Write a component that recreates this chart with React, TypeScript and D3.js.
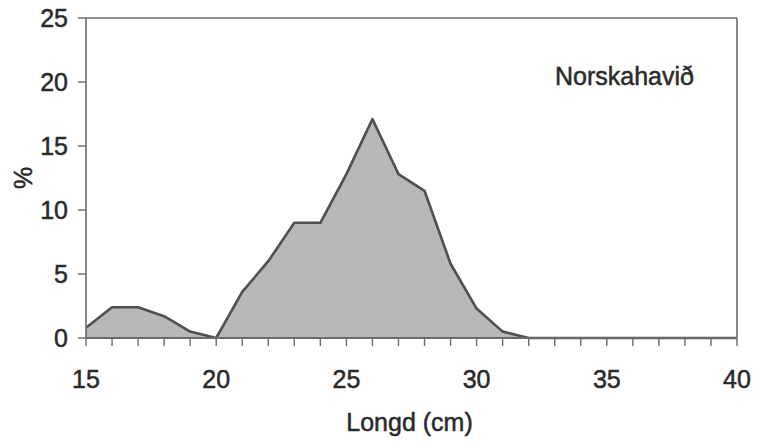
import React from "react";
import * as d3 from "d3";

const lengths = [15, 16, 17, 18, 19, 20, 21, 22, 23, 24, 25, 26, 27, 28, 29, 30, 31, 32, 33, 34, 35, 36, 37, 38, 39, 40];
const percents = [0.8, 2.4, 2.4, 1.7, 0.5, 0.0, 3.6, 6.0, 9.0, 9.0, 12.8, 17.1, 12.8, 11.5, 5.8, 2.3, 0.5, 0.0, 0.0, 0.0, 0.0, 0.0, 0.0, 0.0, 0.0, 0.0];
const xTicks = [15, 20, 25, 30, 35, 40];
const yTicks = [0, 5, 10, 15, 20, 25];
const minorXTicks = d3.range(15, 41, 1);
const regionLabel = "Norskahavið";
const xTitle = "Longd (cm)";
const yTitle = "%";

export default function App() {
  const W = 769, H = 444;
  const left = 86, right = 737, top = 18, bottom = 338;
  const x = d3.scaleLinear().domain([15, 40]).range([left, right]);
  const y = d3.scaleLinear().domain([0, 25]).range([bottom, top]);
  const data = lengths.map((l, i) => ({ l, v: percents[i] }));
  const area = d3.area<{ l: number; v: number }>().x(d => x(d.l)).y0(y(0)).y1(d => y(d.v));
  const line = d3.line<{ l: number; v: number }>().x(d => x(d.l)).y(d => y(d.v));
  const font = "'Liberation Sans', Arial, sans-serif";
  const axisColor = "#6a6a6a";
  const textColor = "#2a2a2a";
  const textStroke = { stroke: textColor, strokeWidth: 0.5 };
  return (
    <svg width={W} height={H} style={{ position: "absolute", left: 0, top: 0, background: "#fff" }} fontFamily={font}>
      <path d={area(data) || ""} fill="#b8b8b8" stroke="none" />
      <path d={line(data) || ""} fill="none" stroke="#505050" strokeWidth={2.6} strokeLinejoin="round" />
      {/* frame */}
      <line x1={left} x2={left} y1={top} y2={bottom} stroke={axisColor} strokeWidth={1.6} />
      <line x1={left} x2={right} y1={top} y2={top} stroke={axisColor} strokeWidth={1.6} />
      <line x1={right} x2={right} y1={top} y2={bottom} stroke={axisColor} strokeWidth={1.6} />
      <line x1={left} x2={right} y1={bottom} y2={bottom} stroke={axisColor} strokeWidth={1.8} />
      {yTicks.map(t => (
        <g key={"y" + t}>
          <line x1={left - 8} x2={left} y1={y(t)} y2={y(t)} stroke={axisColor} strokeWidth={1.4} />
          <text x={left - 18} y={y(t) + 9} textAnchor="end" fontSize={25} fill={textColor} {...textStroke}>{t}</text>
        </g>
      ))}
      {minorXTicks.map(t => (
        <line key={"m" + t} x1={x(t)} x2={x(t)} y1={bottom} y2={bottom + 8} stroke={axisColor} strokeWidth={1.4} />
      ))}
      {xTicks.map(t => (
        <text key={"x" + t} x={x(t)} y={388} textAnchor="middle" fontSize={25} fill={textColor} {...textStroke}>{t}</text>
      ))}
      <text x={(left + right) / 2 - 2} y={431} textAnchor="middle" fontSize={25} fill={textColor} {...textStroke}>{xTitle}</text>
      <text transform={`translate(32,${(top + bottom) / 2}) rotate(-90)`} textAnchor="middle" fontSize={25} fill={textColor} {...textStroke}>{yTitle}</text>
      <text x={555} y={85} fontSize={25} fill={textColor} {...textStroke}>{regionLabel}</text>
    </svg>
  );
}
